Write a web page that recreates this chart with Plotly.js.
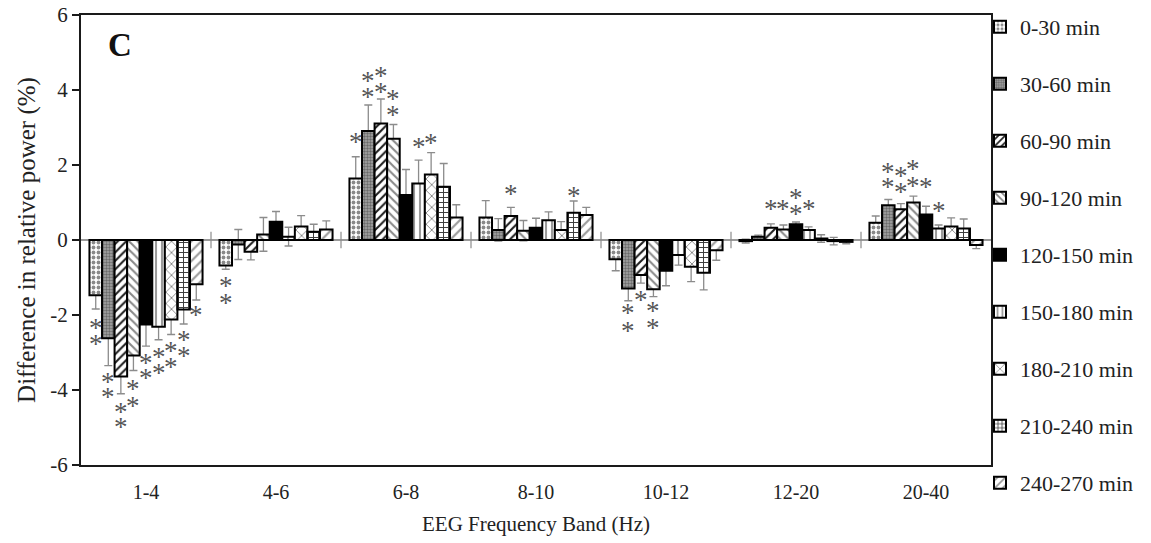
<!DOCTYPE html>
<html>
<head>
<meta charset="utf-8">
<script src="https://cdn.plot.ly/plotly-3.0.1.min.js"></script>
<style>
  html, body { margin: 0; padding: 0; background: #ffffff; }
  #chart { width: 1151px; height: 543px; }
</style>
</head>
<body>
<div id="chart"></div>
<script>
// ---- data ----
var bands = ["1-4", "4-6", "6-8", "8-10", "10-12", "12-20", "20-40"];
var periods = ["0-30 min", "30-60 min", "60-90 min", "90-120 min", "120-150 min",
               "150-180 min", "180-210 min", "210-240 min", "240-270 min"];
var yTicks = [-6, -4, -2, 0, 2, 4, 6];

var v0_30    = [-1.47, -0.68, 1.64, 0.60, -0.51, -0.03, 0.46];
var v30_60   = [-2.62, -0.12, 2.91, 0.27, -1.29, 0.09, 0.93];
var v60_90   = [-3.64, -0.31, 3.11, 0.64, -0.93, 0.33, 0.82];
var v90_120  = [-3.08, 0.15, 2.70, 0.25, -1.31, 0.28, 1.00];
var v120_150 = [-2.25, 0.49, 1.20, 0.33, -0.82, 0.42, 0.68];
var v150_180 = [-2.31, 0.09, 1.51, 0.53, -0.40, 0.27, 0.31];
var v180_210 = [-2.12, 0.36, 1.75, 0.27, -0.71, 0.04, 0.36];
var v210_240 = [-1.85, 0.22, 1.42, 0.73, -0.87, -0.03, 0.31];
var v240_270 = [-1.18, 0.28, 0.60, 0.67, -0.27, -0.05, -0.13];

var e0_30    = [0.37, 0.10, 0.58, 0.45, 0.31, 0.05, 0.18];
var e30_60   = [0.73, 0.40, 0.69, 0.30, 0.33, 0.04, 0.15];
var e60_90   = [0.46, 0.22, 0.65, 0.23, 0.22, 0.10, 0.15];
var e90_120  = [0.40, 0.45, 0.38, 0.27, 0.20, 0.12, 0.17];
var e120_150 = [0.58, 0.27, 0.68, 0.25, 0.40, 0.06, 0.22];
var e150_180 = [0.35, 0.25, 0.62, 0.22, 0.27, 0.08, 0.09];
var e180_210 = [0.40, 0.29, 0.58, 0.22, 0.40, 0.10, 0.23];
var e210_240 = [0.39, 0.20, 0.62, 0.31, 0.46, 0.10, 0.25];
var e240_270 = [0.42, 0.23, 0.34, 0.20, 0.27, 0.05, 0.10];

// significance asterisks: period index, band index, y position
var starPeriod = [0,0, 1,1, 2,2, 3,3, 4,4, 5,5, 6,6, 7,7, 8,
                  0,0,
                  0, 1,1, 2,2, 3,3, 5, 6,
                  2, 7,
                  1,1, 2, 3,3,
                  2, 3, 4,4, 5,
                  1,1, 2,2, 3,3, 4, 5];
var starBand   = [0,0, 0,0, 0,0, 0,0, 0,0, 0,0, 0,0, 0,0, 0,
                  1,1,
                  2, 2,2, 2,2, 2,2, 2, 2,
                  3, 3,
                  4,4, 4, 4,4,
                  5, 5, 5,5, 5,
                  6,6, 6,6, 6,6, 6, 6];
var starY      = [-2.24,-2.67, -3.68,-4.08, -4.48,-4.88, -3.87,-4.32, -3.17,-3.57, -3.01,-3.44, -2.85,-3.28, -2.56,-2.99, -1.88,
                  -1.11,-1.57,
                  2.71, 4.35,3.91, 4.49,4.05, 3.87,3.45, 2.58, 2.69,
                  1.33, 1.27,
                  -1.85,-2.31, -1.48, -1.78,-2.24,
                  0.93, 0.93, 1.24,0.80, 0.93,
                  1.91,1.51, 1.82,1.38, 2.00,1.56, 1.51, 0.89];

var values = [v0_30, v30_60, v60_90, v90_120, v120_150, v150_180, v180_210, v210_240, v240_270];
var errors = [e0_30, e30_60, e60_90, e90_120, e120_150, e150_180, e180_210, e210_240, e240_270];

// ---- styles ----
var styles = [
  {bg: "#ffffff", shape: ".", fg: "#8a8a8a", size: 5, sol: 0.45},
  {bg: "#a8a8a8", shape: ".", fg: "#6a6a6a", size: 3, sol: 0.5},
  {bg: "#ffffff", shape: "/", fg: "#1e1e1e", size: 6, sol: 0.35},
  {bg: "#ffffff", shape: "\\", fg: "#8a8a8a", size: 6, sol: 0.35},
  {bg: "#000000", shape: "", fg: "#000000", size: 6, sol: 0.3},
  {bg: "#ffffff", shape: "|", fg: "#9a9a9a", size: 6, sol: 0.35},
  {bg: "#ffffff", shape: "x", fg: "#7a7a7a", size: 8, sol: 0.2},
  {bg: "#ffffff", shape: "+", fg: "#3a3a3a", size: 5, sol: 0.35},
  {bg: "#ffffff", shape: "/", fg: "#9a9a9a", size: 7, sol: 0.3}
];

var nSeries = periods.length;
var groupFrac = 0.87;
var w = groupFrac / nSeries;
function xPos(i, k) { return k + (i - (nSeries - 1) / 2) * w; }

var traces = [];
// error bars first (drawn beneath the bars)
for (var i = 0; i < nSeries; i++) {
  var xs = bands.map(function (b, k) { return xPos(i, k); });
  traces.push({
    type: "bar", x: xs, y: values[i], width: w,
    marker: {color: "rgba(0,0,0,0)", line: {width: 0}},
    error_y: {type: "data", array: errors[i], symmetric: true, color: "#8c8c8c", thickness: 1.3, width: 4},
    showlegend: false, hoverinfo: "skip"
  });
}
for (var i = 0; i < nSeries; i++) {
  var xs2 = bands.map(function (b, k) { return xPos(i, k); });
  var s = styles[i];
  traces.push({
    type: "bar", name: periods[i], x: xs2, y: values[i], width: w,
    legendgroup: "g" + i, textposition: "none",
    marker: {
      color: s.bg,
      line: {color: "#000000", width: 2},
      pattern: {shape: s.shape, fgcolor: s.fg, bgcolor: s.bg, size: s.size, solidity: s.sol, fillmode: "replace"}
    },
    customdata: bands, hovertemplate: "%{customdata}: %{y}<extra>" + periods[i] + "</extra>"
  });
}

// asterisks as annotations anchored at data coordinates
var annotations = starY.map(function (yv, j) {
  return {
    xref: "x", yref: "y", x: xPos(starPeriod[j], starBand[j]), y: yv,
    text: "*", showarrow: false, xanchor: "center", yanchor: "middle", yshift: -4,
    font: {family: "Liberation Serif", size: 27, color: "#555555"}
  };
});
annotations.push({
  text: "<b>C</b>", xref: "paper", yref: "paper", x: (120 - 81) / 910, y: 1 - (45 - 15) / 450,
  xanchor: "center", yanchor: "middle", showarrow: false,
  font: {family: "Liberation Serif", size: 33, color: "#111111"}
});

// small tick marks on the zero line between bands
var shapes = [];
for (var k = 0; k < bands.length - 1; k++) {
  shapes.push({type: "line", xref: "x", yref: "y", x0: k + 0.5, x1: k + 0.5, y0: -0.22, y1: 0.22,
               line: {color: "#8c8c8c", width: 1.2}});
}

var layout = {
  width: 1151, height: 543,
  margin: {l: 81, r: 160, t: 15, b: 78, autoexpand: false},
  paper_bgcolor: "#ffffff", plot_bgcolor: "#ffffff",
  barmode: "overlay",
  font: {family: "Liberation Serif", color: "#222222", size: 20},
  xaxis: {
    range: [-0.5, bands.length - 0.5],
    tickvals: bands.map(function (b, k) { return k; }),
    ticktext: bands, ticks: "", showgrid: false, zeroline: false,
    showline: true, linecolor: "#1a1a1a", linewidth: 2, mirror: true,
    ticklabelstandoff: 8,
    tickfont: {family: "Liberation Serif", size: 20, color: "#222222"},
    title: {text: "EEG Frequency Band (Hz)", font: {family: "Liberation Serif", size: 21, color: "#222222"}, standoff: 14}
  },
  yaxis: {
    range: [-6, 6], tickvals: yTicks, ticktext: yTicks.map(String),
    ticks: "outside", ticklen: 7, tickwidth: 2, tickcolor: "#1a1a1a",
    showgrid: false, zeroline: true, zerolinecolor: "#9a9a9a", zerolinewidth: 1.2,
    showline: true, linecolor: "#1a1a1a", linewidth: 2, mirror: true,
    tickfont: {family: "Liberation Serif", size: 21, color: "#222222"},
    title: {text: "Difference in relative power (%)", font: {family: "Liberation Serif", size: 25, color: "#222222"}, standoff: 8}
  },
  legend: {
    xref: "container", yref: "container",
    x: 980 / 1151, xanchor: "left", y: 1 - 6 / 543, yanchor: "top",
    maxheight: 1,
    bgcolor: "rgba(0,0,0,0)", borderwidth: 0,
    font: {family: "Liberation Serif", size: 22, color: "#222222"},
    tracegroupgap: 25.4, itemwidth: 30
  },
  shapes: shapes,
  annotations: annotations,
  showlegend: true
};

Plotly.newPlot("chart", traces, layout, {displayModeBar: false, staticPlot: true});
</script>
</body>
</html>
